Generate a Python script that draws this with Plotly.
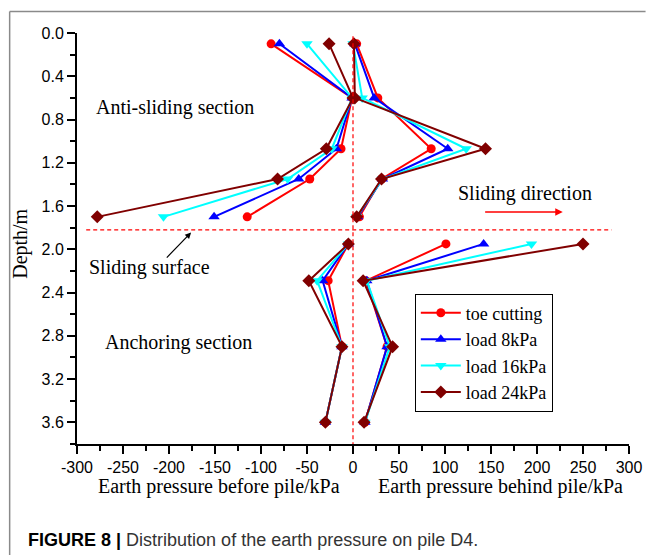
import plotly.graph_objects as go

# ---------------- data ----------------
depth_anti = [0.1, 0.6, 1.07, 1.35, 1.7]
depth_anchor = [1.95, 2.29, 2.9, 3.6]

series_names = ["toe cutting", "load 8kPa", "load 16kPa", "load 24kPa"]

toe_before_anti = [-89, -1, -13, -47, -115]
toe_behind_anti = [4, 27, 85, 31, 7]
toe_before_anchor = [-5, -27, -12, -30]
toe_behind_anchor = [101, 14, 37, 13]

l8_before_anti = [-80, -1, -18, -59, -151]
l8_behind_anti = [2, 23, 103, 32, 5]
l8_before_anchor = [-5, -33, -12, -30]
l8_behind_anchor = [142, 15, 37, 13]

l16_before_anti = [-50, -1, -23, -71, -206]
l16_behind_anti = [0, 10, 123, 32, 4]
l16_before_anchor = [-5, -39, -12, -30]
l16_behind_anchor = [194, 15, 40, 13]

l24_before_anti = [-26, 0, -29, -82, -278]
l24_behind_anti = [1, 2, 144, 31, 4]
l24_before_anchor = [-5, -48, -12, -30]
l24_behind_anchor = [250, 11, 43, 12]

x_ticks = list(range(-300, 301, 50))
y_ticks = [0.0, 0.4, 0.8, 1.2, 1.6, 2.0, 2.4, 2.8, 3.2, 3.6]
sliding_surface_depth = 1.82

# ---------------- styles ----------------
colors = ["#FF0000", "#0000FF", "#00FFFF", "#800000"]
symbols = ["circle", "triangle-up", "triangle-down", "diamond"]
msizes = [9, 10, 10, 10]

all_data = [
    (toe_before_anti, toe_behind_anti, toe_before_anchor, toe_behind_anchor),
    (l8_before_anti, l8_behind_anti, l8_before_anchor, l8_behind_anchor),
    (l16_before_anti, l16_behind_anti, l16_before_anchor, l16_behind_anchor),
    (l24_before_anti, l24_behind_anti, l24_before_anchor, l24_behind_anchor),
]

fig = go.Figure()
for name, col, sym, ms, (ba, bh, ca, ch) in zip(series_names, colors, symbols, msizes, all_data):
    xs = list(ba) + [None] + list(bh) + [None] + list(ca) + [None] + list(ch)
    ys = list(depth_anti) + [None] + list(depth_anti) + [None] + list(depth_anchor) + [None] + list(depth_anchor)
    fig.add_trace(go.Scatter(
        x=xs, y=ys, name=name, mode="lines+markers", connectgaps=False,
        line=dict(color=col, width=2),
        marker=dict(symbol=sym, size=ms, color=col, line=dict(width=0)),
    ))

serif = "Liberation Serif, Times New Roman, serif"
sans = "Liberation Sans, Arial, sans-serif"

fig.update_layout(
    width=654, height=558,
    margin=dict(l=77, r=14, t=33, b=114),
    paper_bgcolor="white", plot_bgcolor="white",
    showlegend=True,
    legend=dict(
        x=0.612, y=0.366, xanchor="left", yanchor="top",
        bordercolor="black", borderwidth=1, bgcolor="white",
        font=dict(family=serif, size=18, color="black"),
        tracegroupgap=0, itemwidth=40,
    ),
)

fig.update_xaxes(
    range=[-300, 300], tickvals=x_ticks, ticktext=[str(v) for v in x_ticks],
    showgrid=False, zeroline=False, showline=True, linecolor="black", linewidth=2,
    ticks="outside", ticklen=8, tickwidth=2, tickcolor="black",
    minor=dict(dtick=25, tick0=0, ticks="outside", ticklen=5, tickwidth=1.5, tickcolor="black"),
    tickfont=dict(family=sans, size=16, color="black"),
)
fig.update_yaxes(
    range=[3.8, 0], tickvals=y_ticks, ticktext=[f"{v:.1f}" for v in y_ticks],
    showgrid=False, zeroline=False, showline=True, linecolor="black", linewidth=2,
    ticks="outside", ticklen=8, tickwidth=2, tickcolor="black",
    minor=dict(dtick=0.2, tick0=0, ticks="outside", ticklen=5, tickwidth=1.5, tickcolor="black"),
    tickfont=dict(family=sans, size=16, color="black"),
)

# dashed reference lines
fig.add_shape(type="line", xref="x", yref="y", x0=0, x1=0, y0=0.03, y1=3.8,
              line=dict(color="#FF0000", width=1.2, dash="4px,3px"))
fig.add_shape(type="line", xref="x", yref="y", x0=-290, x1=281,
              y0=sliding_surface_depth, y1=sliding_surface_depth,
              line=dict(color="#FF0000", width=1.2, dash="4px,3px"))

# figure frame (journal panel border)
fig.add_shape(type="line", xref="paper", yref="paper", x0=-0.122, x1=1.03, y0=1.0526, y1=1.0526,
              line=dict(color="#8a8a8a", width=1.5))
fig.add_shape(type="line", xref="paper", yref="paper", x0=-0.122, x1=-0.122, y0=1.0526, y1=-0.27,
              line=dict(color="#8a8a8a", width=1.5))

tf = dict(family=serif, size=20, color="black")
fig.add_annotation(x=-194, y=0.69, xref="x", yref="y", text="Anti-sliding section",
                   showarrow=False, font=tf)
fig.add_annotation(x=-221, y=2.165, xref="x", yref="y", text="Sliding surface",
                   showarrow=False, font=tf)
fig.add_annotation(x=-190, y=2.857, xref="x", yref="y", text="Anchoring section",
                   showarrow=False, font=tf)
fig.add_annotation(x=187, y=1.484, xref="x", yref="y", text="Sliding direction",
                   showarrow=False, font=tf)
# arrows
fig.add_annotation(x=-176, y=1.845, ax=-204, ay=2.09, xref="x", yref="y", axref="x", ayref="y",
                   text="", showarrow=True, arrowhead=2, arrowsize=1, arrowwidth=1.2,
                   arrowcolor="black")
fig.add_annotation(x=228, y=1.655, ax=142, ay=1.655, xref="x", yref="y", axref="x", ayref="y",
                   text="", showarrow=True, arrowhead=2, arrowsize=1, arrowwidth=1.5,
                   arrowcolor="#FF0000")

# axis titles
fig.add_annotation(x=(221.5 - 77) / 563, y=(444.3 - 487) / 411, xref="paper", yref="paper",
                   text="Earth pressure before pile/kPa", showarrow=False, font=tf,
                   xanchor="center", yanchor="middle")
fig.add_annotation(x=(509 - 77) / 563, y=(444.3 - 487) / 411, xref="paper", yref="paper",
                   text="Earth pressure behind pile/kPa", showarrow=False, font=tf,
                   xanchor="center", yanchor="middle")
fig.add_annotation(x=(20 - 77) / 563, y=(444.3 - 244) / 411, xref="paper", yref="paper",
                   text="Depth/m", textangle=-90, showarrow=False, font=tf,
                   xanchor="center", yanchor="middle")

# caption
fig.add_annotation(x=(25 - 77) / 563, y=(444.3 - 540) / 411, xref="paper", yref="paper",
                   text="<b>FIGURE 8 |</b> <span style='color:#333333'>Distribution of the earth pressure on pile D4.</span>",
                   showarrow=False, xanchor="left", yanchor="middle",
                   font=dict(family=sans, size=18, color="black"))

fig.write_html(
    "out.html",
    config={"displayModeBar": False},
    post_script="document.body.style.margin='0';document.body.style.padding='0';"
                "document.documentElement.style.overflow='hidden';",
)
